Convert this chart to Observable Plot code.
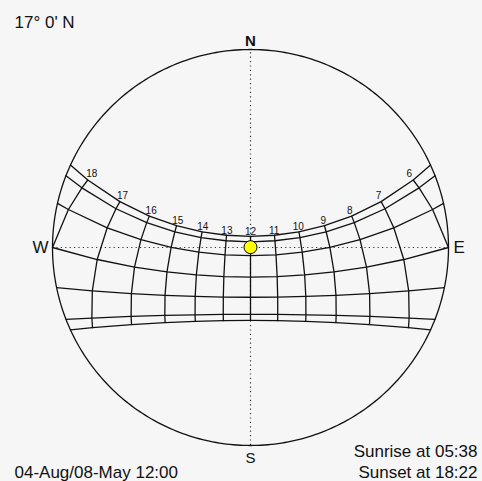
<!DOCTYPE html>
<html><head><meta charset="utf-8">
<script src="https://cdn.jsdelivr.net/npm/d3@7"></script>
<script src="https://cdn.jsdelivr.net/npm/@observablehq/plot@0.6"></script>
<style>html,body{margin:0;padding:0;background:#f6f6f6;}</style>
</head><body><div id="chart"></div>
<script>
// ---- data ----
const latitude = 17;
const latitudeLabel = "17° 0' N";
const dateNames = ["Jun 21", "May/Jul 21", "Apr/Aug 21", "Mar/Sep 21", "Feb/Oct 21", "Jan/Nov 21", "Dec 21"];
const declinations = [23.45, 20.3, 12.3, 0, -11.2, -20.3, -23.45];
const hours = [6, 7, 8, 9, 10, 11, 12, 13, 14, 15, 16, 17, 18];
const hourLabels = ["6", "7", "8", "9", "10", "11", "12", "13", "14", "15", "16", "17", "18"];
const labelDeclination = 25.5;
const sunDeclination = 17.2;
const sunHour = 12;
const dateText = "04-Aug/08-May 12:00";
const sunriseText = "Sunrise at 05:38";
const sunsetText = "Sunset at 18:22";

// ---- stereographic sky projection (zenith at centre, horizon = unit circle) ----
const rad = Math.PI / 180;
function sky(dec, H) {
  const d = dec * rad, h = H * rad, p = latitude * rad;
  const E = -Math.cos(d) * Math.sin(h);
  const N = Math.cos(p) * Math.sin(d) - Math.sin(p) * Math.cos(d) * Math.cos(h);
  const U = Math.sin(p) * Math.sin(d) + Math.cos(p) * Math.cos(d) * Math.cos(h);
  return {x: E / (1 + U), y: N / (1 + U), alt: Math.asin(Math.max(-1, Math.min(1, U))) / rad};
}

const horizon = d3.range(0, 361, 1).map(a => ({x: Math.sin(a * rad), y: Math.cos(a * rad)}));

const datePts = [];
declinations.forEach((dec, i) => {
  const H0 = Math.acos(-Math.tan(latitude * rad) * Math.tan(dec * rad)) / rad;
  const hs = [-H0, ...hours.map(h => 15 * (h - 12)).filter(H => Math.abs(H) < H0 - 1e-9), H0];
  hs.forEach(H => datePts.push({name: dateNames[i], ...sky(dec, H)}));
});

const hourPts = [];
hours.forEach(h => {
  declinations.forEach(dec => {
    const s = sky(dec, 15 * (h - 12));
    if (s.alt > -1e-6) hourPts.push({hour: h, ...s});
  });
});

const hourLabelPts = hours.map((h, i) => ({label: hourLabels[i], ...sky(labelDeclination, 15 * (h - 12))}));
const sun = sky(sunDeclination, 15 * (sunHour - 12));

const ink = "#111";
const font = "'Liberation Sans', Arial, sans-serif";

const chart = Plot.plot({
  width: 482, height: 481, margin: 0,
  x: {domain: [-1, 1], range: [52, 448], axis: null},
  y: {domain: [-1, 1], range: [445, 49], axis: null},
  style: {background: "#f6f6f6", fontFamily: font, color: "#111"},
  marks: [
    Plot.ruleY([0], {x1: -1, x2: 1, stroke: "#333", strokeWidth: 1.2, strokeDasharray: "1.2,3.2"}),
    Plot.ruleX([0], {y1: -1, y2: 1, stroke: "#333", strokeWidth: 1.2, strokeDasharray: "1.2,3.2"}),
    Plot.line(horizon, {x: "x", y: "y", stroke: ink, strokeWidth: 1.3}),
    Plot.line(datePts, {x: "x", y: "y", z: "name", stroke: ink, strokeWidth: 1.3}),
    Plot.line(hourPts, {x: "x", y: "y", z: "hour", stroke: ink, strokeWidth: 1.3}),
    Plot.text(hourLabelPts, {x: "x", y: "y", text: "label", fontSize: 10, fill: ink, dy: -1}),
    Plot.dot([sun], {x: "x", y: "y", r: 6.5, fill: "#ffff00", stroke: "#000", strokeWidth: 1}),
    Plot.text(["N"], {x: 0, y: 1, text: d => d, fontSize: 15, fontWeight: "bold", lineAnchor: "bottom", dy: -4, fill: ink}),
    Plot.text(["S"], {x: 0, y: -1, text: d => d, fontSize: 15, lineAnchor: "top", dy: 7, fill: ink}),
    Plot.text(["W"], {x: -1, y: 0, text: d => d, fontSize: 17, textAnchor: "end", lineAnchor: "middle", dx: -4, fill: ink}),
    Plot.text(["E"], {x: 1, y: 0, text: d => d, fontSize: 17, textAnchor: "start", lineAnchor: "middle", dx: 5, fill: ink}),
    Plot.text([latitudeLabel], {frameAnchor: "top-left", textAnchor: "start", lineAnchor: "top", dx: 14, dy: 15, fontSize: 17, text: d => d, fill: ink}),
    Plot.text([dateText], {frameAnchor: "bottom-left", textAnchor: "start", lineAnchor: "bottom", dx: 14, dy: -4, fontSize: 17, text: d => d, fill: ink}),
    Plot.text([sunsetText], {frameAnchor: "bottom-right", textAnchor: "end", lineAnchor: "bottom", dx: -5, dy: -4, fontSize: 17, text: d => d, fill: ink}),
    Plot.text([sunriseText], {frameAnchor: "bottom-right", textAnchor: "end", lineAnchor: "bottom", dx: -5, dy: -25, fontSize: 17, text: d => d, fill: ink})
  ]
});
document.getElementById("chart").appendChild(chart);
</script>
</body></html>
